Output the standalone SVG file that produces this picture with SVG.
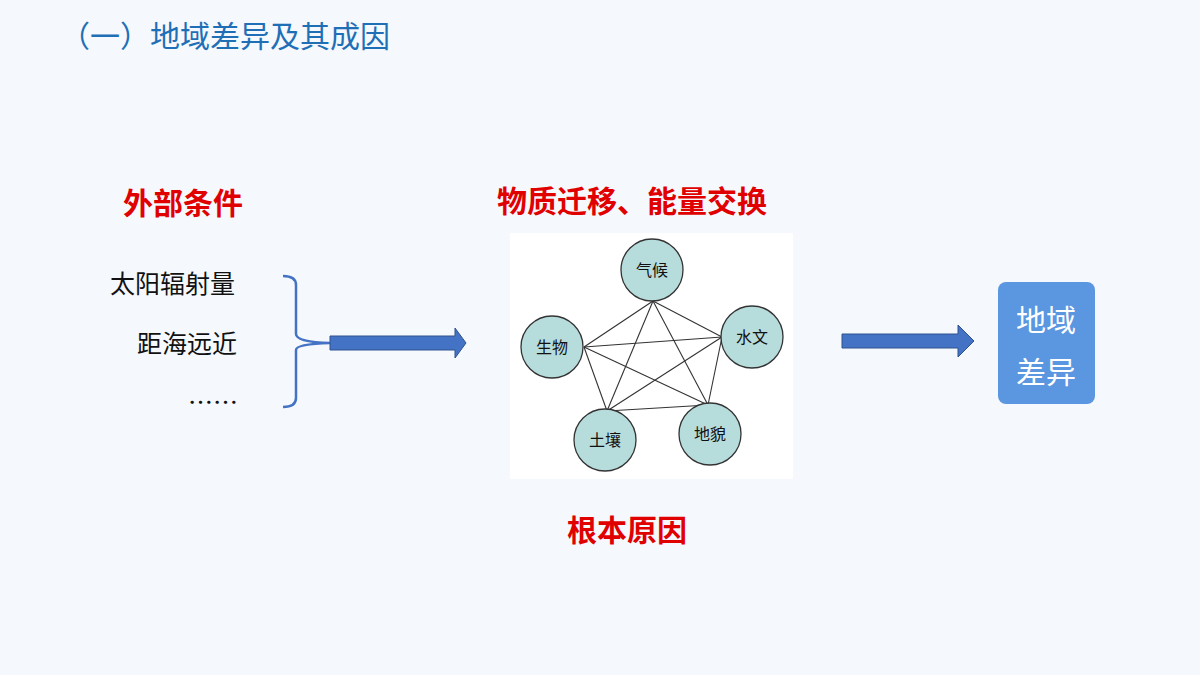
<svg xmlns="http://www.w3.org/2000/svg" width="1200" height="675" viewBox="0 0 1200 675">
<style>
.t{font-family:"Noto Sans CJK SC","Noto Sans",sans-serif}
.red{fill:#e00000;font-size:30px;font-weight:bold}
.blk{fill:#111;font-size:25px}
.c{fill:#b7dcdc;stroke:#333;stroke-width:1.3}
.cl{fill:#111;font-size:16px;text-anchor:middle}
.arr{fill:#4472c4;stroke:#2f528f;stroke-width:1}
</style>
<rect width="1200" height="675" fill="#f5f8fc"/>
<text class="t" x="60" y="47" font-size="30" fill="#1f6fb7">（一）地域差异及其成因</text>
<text class="t red" x="123" y="214">外部条件</text>
<text class="t red" x="497" y="212">物质迁移、能量交换</text>
<text class="t red" x="567" y="541">根本原因</text>
<text class="t blk" x="110" y="293">太阳辐射量</text>
<text class="t blk" x="137" y="353">距海远近</text>
<text class="t blk" x="188" y="412">……</text>
<path d="M283,276 Q296,276 296,285 L296,334 Q296,342 330,343 Q296,344 296,350 L296,398 Q296,407 283,407" fill="none" stroke="#4472c4" stroke-width="2.5"/>
<g id="connectors">
<polygon class="arr" points="330,336 455,336 455,328 466,343 455,358 455,350 330,350"/>
<polygon class="arr" points="842,334 958,334 958,325 974,341 958,357 958,348 842,348"/>
</g>
<rect x="510" y="233" width="283" height="246" fill="#fff"/>
<g stroke="#333" stroke-width="1.1">
<line x1="653" y1="301" x2="584" y2="347"/><line x1="653" y1="301" x2="722" y2="337"/>
<line x1="653" y1="301" x2="607" y2="411"/><line x1="653" y1="301" x2="708" y2="405"/>
<line x1="584" y1="347" x2="722" y2="337"/><line x1="584" y1="347" x2="607" y2="411"/>
<line x1="584" y1="347" x2="708" y2="405"/><line x1="722" y1="337" x2="607" y2="411"/>
<line x1="722" y1="337" x2="708" y2="405"/><line x1="607" y1="411" x2="708" y2="405"/>
</g>
<g id="n1"><circle class="c" cx="652" cy="270" r="31"/><text class="t cl" x="652" y="276">气候</text></g>
<g id="n2"><circle class="c" cx="552" cy="347" r="31"/><text class="t cl" x="552" y="353">生物</text></g>
<g id="n3"><circle class="c" cx="752" cy="337" r="31"/><text class="t cl" x="752" y="343">水文</text></g>
<g id="n4"><circle class="c" cx="605" cy="440" r="31"/><text class="t cl" x="605" y="446">土壤</text></g>
<g id="n5"><circle class="c" cx="710" cy="434" r="31"/><text class="t cl" x="710" y="440">地貌</text></g>
<g id="n6"><rect x="998" y="282" width="97" height="122" rx="8" fill="#5b96e0"/>
<text class="t" x="1046" y="331" font-size="30" fill="#fff" text-anchor="middle">地域</text>
<text class="t" x="1046" y="383" font-size="30" fill="#fff" text-anchor="middle">差异</text></g>
</svg>
